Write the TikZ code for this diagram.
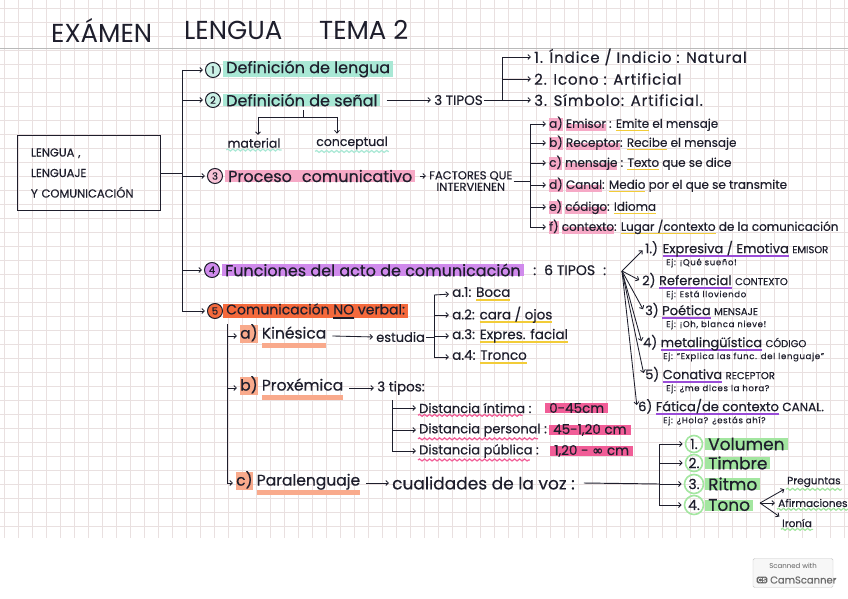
\documentclass[tikz,border=0pt]{standalone}
\usepackage{fontspec}
\setmainfont{Poppins}[FakeBold=0.4]
\newfontfamily\titlef{Poppins}
\newfontfamily\symf{DejaVu Sans}[FakeBold=0.4]
\newfontfamily\wfont{Poppins}[LetterSpace=6,FakeBold=0.4]
\newfontfamily\efont{Poppins}[LetterSpace=8,FakeBold=0.4]
\usetikzlibrary{arrows.meta,decorations.pathmorphing}
\definecolor{ink}{HTML}{1E1E2C}
\definecolor{gridc}{HTML}{E9E0E0}
\definecolor{mint}{HTML}{A9E8D5}
\definecolor{pinkhl}{HTML}{F6A9C6}
\definecolor{purplehl}{HTML}{D08AEC}
\definecolor{orangehl}{HTML}{F4693C}
\definecolor{salmon}{HTML}{F9AA8C}
\definecolor{yel}{HTML}{F2CC38}
\definecolor{hotpink}{HTML}{F15D97}
\definecolor{greenhl}{HTML}{A3E6A0}
\definecolor{purpleul}{HTML}{9A4DD8}
\newcommand\fz[1]{\fontsize{#1}{#1}\selectfont}
\newcommand\hlx[2]{\setbox0\hbox{#2}\rlap{\color{#1}\rule[-0.3em]{\wd0}{1.15em}}\box0\relax}
\newcommand\lhx[2]{\setbox0\hbox{#2}\rlap{\color{#1}\rule[-0.3em]{\wd0}{0.6em}}\box0\relax}
\newcommand\ulx[2]{\setbox0\hbox{#2}\rlap{\color{#1}\rule[-0.3em]{\wd0}{0.15em}}\box0\relax}
\newcommand\thul[2]{\setbox0\hbox{#2}\rlap{\color{#1}\rule[-0.6em]{\wd0}{0.3em}}\box0\relax}
\begin{document}
\begin{tikzpicture}[x=1pt,y=-1pt,
  lbl/.style={anchor=west,inner sep=1pt,text=ink},
  arr/.style={draw=ink,line width=0.85pt,-{Straight Barb[length=2.6pt,width=5pt]},shorten >=2pt},
  brk/.style={draw=ink,line width=0.95pt},
  num/.style={circle,draw=ink,line width=1pt,inner sep=0pt,minimum size=15pt,font=\fz{10},text=ink},
  hl/.style={fill=#1,inner xsep=3pt,inner ysep=-0.5pt},
  wavy/.style={draw=#1,line width=1.2pt,decorate,decoration={snake,amplitude=1pt,segment length=5pt}},
  fA/.style={font=\fz{16}},
  fB/.style={font=\fz{12}},
  fC/.style={font=\efont\fz{8.5}},
]
\useasboundingbox (0,0) rectangle (848,599);
\fill[white] (0,0) rectangle (848,599);
\foreach \i in {1,...,38} \draw[gridc,line width=0.4pt] (0,\i*14-6) -- (848,\i*14-6);
\foreach \j in {0,...,60} \draw[gridc,line width=0.4pt] (\j*14+4,0) -- (\j*14+4,538);
\draw[gray!55,line width=0.6pt] (0,48) -- (848,48);

% title
\node[lbl,font=\titlef\fz{26}] (tA) at (50,30) {EXÁMEN};
\node[lbl,font=\titlef\fz{26}] (tB) at (183,30) {LENGUA};
\node[lbl,font=\titlef\fz{26}] (tC) at (318,30) {TEMA 2};

% main box
\node[draw=ink,line width=1.1pt,minimum width=143pt,minimum height=75pt,text width=116pt,align=left,font=\fontsize{11.5}{20.5}\selectfont,text=ink] (box) at (89,173) {LENGUA ,\\LENGUAJE\\Y COMUNICACIÓN};

% main bracket
\coordinate (m1) at (182,70);
\coordinate (m2) at (182,100);
\coordinate (m3) at (182,176);
\coordinate (m4) at (182,270);
\coordinate (m5) at (182,311);
\draw[brk] (m1) -- (m5);
\draw[brk] (box.east) -- (box.east -| m1);

% 1
\node[num,fill=mint!60] (n1) at (213,70) {1};
\node[lbl,fA,hl=mint] (l1) at (223,69) {Definición de lengua};
\draw[arr] (m1) -- (n1.west);
% 2
\node[num,fill=mint!60] (n2) at (213,100) {2};
\node[lbl,fA,hl=mint] (l2) at (223,100) {Definición de señal};
\draw[arr] (m2) -- (n2.west);
\coordinate (s0) at (303,110);
\coordinate (sL) at (258,117);
\coordinate (sR) at (337,117);
\node[font=\fz{12.5},text=ink,inner sep=1pt] (mat) at (254,143) {material};
\node[font=\fz{12.5},text=ink,inner sep=1pt] (conc) at (352,143) {conceptual};
\draw[brk] (s0) -- (s0 |- sL);
\draw[brk] (sL) -- (sR);
\draw[arr] (sL) -- (sL |- mat.north);
\draw[arr] (sR) -- (sR |- conc.north);
\draw[wavy=mint] ([yshift=-1pt]mat.south west) -- ([yshift=-1pt]mat.south east);
\draw[wavy=mint] ([yshift=-1pt]conc.south west) -- ([yshift=-1pt]conc.south east);

\node[lbl,font=\fz{13.5}] (t3) at (433,100) {3 TIPOS};
\draw[arr] ([xshift=6pt]l2.east) -- (t3.west);
\coordinate (b1) at (502,57);
\coordinate (b2) at (502,79);
\coordinate (b3) at (502,100);
\draw[brk] (t3.east) -- (b3) -- (b1);
\node[lbl,font=\wfont\fz{15}] (i1) at (533,57) {1. Índice / Indicio : Natural};
\node[lbl,font=\wfont\fz{15}] (i2) at (533,79) {2. Icono : Artificial};
\node[lbl,font=\wfont\fz{15}] (i3) at (533,100) {3. Símbolo: Artificial.};
\draw[arr] (b1) -- (i1.west);
\draw[arr] (b2) -- (i2.west);
\draw[arr] (b3) -- (i3.west);

% 3
\node[num,fill=pinkhl!70] (n3) at (215,176) {3};
\node[lbl,fA,hl=pinkhl] (l3) at (225,176) {Proceso\hspace{10pt}comunicativo};
\draw[arr] (m3) -- (n3.west);
\node[lbl,font=\fz{11.5},align=center] (fq) at (428,181) {FACTORES QUE\\INTERVIENEN};
\draw[arr] ([xshift=5pt]l3.east) -- (fq.west |- l3.east);
\coordinate (f1) at (530,124);
\coordinate (f2) at (530,143);
\coordinate (f3) at (530,163);
\coordinate (f4) at (530,185);
\coordinate (f5) at (530,207);
\coordinate (f6) at (530,227);
\draw[brk] (f1) -- (f6);
\draw[brk] (fq.east) -- (fq.east -| f1);
\node[lbl,fB] (fa) at (548,124) {\hlx{pinkhl}{a)} \lhx{pinkhl}{Emisor} : \ulx{yel}{Emite} el mensaje};
\node[lbl,fB] (fb) at (548,143) {\hlx{pinkhl}{b)} \lhx{pinkhl}{Receptor}: \ulx{yel}{Recibe} el mensaje};
\node[lbl,fB] (fc) at (548,163) {\hlx{pinkhl}{c)} \lhx{pinkhl}{mensaje} : \ulx{yel}{Texto} que se dice};
\node[lbl,fB] (fd) at (548,185) {\hlx{pinkhl}{d)} \lhx{pinkhl}{Canal}: \ulx{yel}{Medio} por el que se transmite};
\node[lbl,fB] (fe) at (548,207) {\hlx{pinkhl}{e)} \lhx{pinkhl}{código}: \ulx{yel}{Idioma}};
\node[lbl,fB] (ff) at (548,227) {\hlx{pinkhl}{f)} \lhx{pinkhl}{contexto}: \ulx{yel}{Lugar /contexto} de la comunicación};
\foreach \k/\t in {1/a,2/b,3/c,4/d,5/e,6/f} \draw[arr] (f\k) -- (f\t.west);

% 4
\node[num,fill=purplehl] (n4) at (212,270) {4};
\node[lbl,fA,hl=purplehl] (l4) at (222,270) {Funciones del acto de comunicación};
\draw[arr] (m4) -- (n4.west);
\node[lbl,font=\fz{14}] (t6) at (532,270) {:\hspace{8pt}6 TIPOS\hspace{8pt}:};
\coordinate (fo) at (622,271);
\node[lbl,font=\fz{13}] (g1) at (644,249) {1.) \ulx{purpleul}{Expresiva / Emotiva} {\fz{10}EMISOR}};
\node[lbl,fC] (e1) at (665,263) {Ej: ¡Qué sueño!};
\node[lbl,font=\fz{13}] (g2) at (641,281) {2) \ulx{purpleul}{Referencial} {\fz{10}CONTEXTO}};
\node[lbl,fC] (e2) at (665,295) {Ej: Está lloviendo};
\node[lbl,font=\fz{13}] (g3) at (644,311) {3) \ulx{purpleul}{Poética} {\fz{10}MENSAJE}};
\node[lbl,fC] (e3) at (665,325) {Ej: ¡Oh, blanca nieve!};
\node[lbl,font=\fz{13}] (g4) at (642,343) {4) \ulx{purpleul}{metalingüística} {\fz{10}CÓDIGO}};
\node[lbl,fC] (e4) at (662,357) {Ej: “Explica las func. del lenguaje”};
\node[lbl,font=\fz{13}] (g5) at (644,375) {5) \ulx{purpleul}{Conativa} {\fz{10}RECEPTOR}};
\node[lbl,fC] (e5) at (665,389) {Ej: ¿me dices la hora?};
\node[lbl,font=\fz{13}] (g6) at (637,407) {6) \ulx{purpleul}{Fática/de contexto} {\fz{12}CANAL.}};
\node[lbl,fC] (e6) at (662,421) {Ej: ¿Hola? ¿estás ahí?};
\foreach \k in {1,...,6} \draw[arr] (fo) -- (g\k.west);

% 5
\node[num,fill=orangehl] (n5) at (215,311) {5};
\node[lbl,font=\fz{14},hl=orangehl] (l5) at (223,311) {Comunicación \ulx{ink}{NO} verbal:};
\draw[arr] (m5) -- (n5.west);
\coordinate (k0) at (227,324);
\coordinate (k1) at (227,336);
\coordinate (k2) at (227,388);
\coordinate (k3) at (227,483);
\draw[brk] (k0) -- (k3);

% a) Kinesica
\node[lbl,font=\fz{15.5}] (ka) at (239,336) {\hlx{salmon}{a)} \thul{salmon}{Kinésica}};
\draw[arr] (k1) -- (ka.west);
\node[lbl,font=\fz{13}] (es) at (375,337) {estudia};
\draw[arr] ([xshift=5pt]ka.east) -- (es.west);
\coordinate (c1) at (434,295);
\coordinate (c2) at (434,315);
\coordinate (c3) at (434,336);
\coordinate (c4) at (434,357);
\draw[brk] (c1) -- (c4);
\draw[brk] (es.east) -- (es.east -| c1);
\node[lbl,font=\fz{13.5}] (ca1) at (451,294) {a.1: \ulx{yel}{Boca}};
\node[lbl,font=\fz{13.5}] (ca2) at (451,315) {a.2: \ulx{yel}{cara / ojos}};
\node[lbl,font=\fz{13.5}] (ca3) at (451,336) {a.3: \ulx{yel}{Expres. facial}};
\node[lbl,font=\fz{13.5}] (ca4) at (451,357) {a.4: \ulx{yel}{Tronco}};
\foreach \k in {1,...,4} \draw[arr] (c\k) -- (ca\k.west);

% b) Proxemica
\node[lbl,font=\fz{15.5}] (kb) at (239,388) {\hlx{salmon}{b)} \thul{salmon}{Proxémica}};
\draw[arr] (k2) -- (kb.west);
\node[lbl,font=\fz{13.5}] (tp) at (376,388) {3 tipos:};
\draw[arr] ([xshift=5pt]kb.east) -- (tp.west);
\coordinate (d0) at (392,400);
\coordinate (d1) at (392,408);
\coordinate (d2) at (392,430);
\coordinate (d3) at (392,451);
\draw[brk] (d0) -- (d3);
\node[lbl,font=\fz{13}] (dn1) at (418,408) {Distancia íntima :};
\node[lbl,font=\fz{13}] (dn2) at (418,430) {Distancia personal :};
\node[lbl,font=\fz{13}] (dn3) at (418,451) {Distancia pública :};
\foreach \k in {1,2,3} {
  \draw[arr] (d\k) -- (dn\k.west);
  \draw[wavy=hotpink] ([yshift=-1pt]dn\k.south west) -- ([xshift=-10pt,yshift=-1pt]dn\k.south east);
}
\node[lbl,font=\fz{13.5},hl=hotpink,inner xsep=4pt] (dv1) at (545,408) {0-45cm};
\node[lbl,font=\fz{13.5},hl=hotpink,inner xsep=4pt] (dv2) at (549,430) {45-1,20 cm};
\node[lbl,font=\fz{13.5},hl=hotpink,inner xsep=4pt] (dv3) at (550,451) {1,20 - {\symf ∞} cm};

% c) Paralenguaje
\node[lbl,font=\fz{15.5}] (kc) at (235,483) {\hlx{salmon}{c)} \thul{salmon}{Paralenguaje}};
\draw[arr] (k3) -- (kc.west);
\node[lbl,font=\fz{17}] (cv) at (391,483) {cualidades de la voz :};
\draw[arr] ([xshift=5pt]kc.east) -- (cv.west);
\coordinate (v1) at (659,444);
\coordinate (v2) at (659,463);
\coordinate (v3) at (659,484);
\coordinate (v4) at (659,505);
\draw[brk] (v1) -- (v4);
\draw[brk] ([xshift=8pt]cv.east) -- (v3);
\node[circle,draw=greenhl,line width=1.6pt,inner sep=0.5pt,minimum size=17pt,font=\fz{14},text=ink] (wn1) at (694,444) {1.};
\node[circle,draw=greenhl,line width=1.6pt,inner sep=0.5pt,minimum size=17pt,font=\fz{14},text=ink] (wn2) at (694,463) {2.};
\node[circle,draw=greenhl,line width=1.6pt,inner sep=0.5pt,minimum size=19pt,font=\fz{14},text=ink] (wn3) at (694,484) {3.};
\node[circle,draw=greenhl,line width=1.6pt,inner sep=0.5pt,minimum size=19pt,font=\fz{14},text=ink] (wn4) at (694,505) {4.};
\node[lbl,font=\fz{17},hl=greenhl] (w1) at (705,444) {Volumen};
\node[lbl,font=\fz{17},hl=greenhl] (w2) at (705,463) {Timbre};
\node[lbl,font=\fz{17},hl=greenhl] (w3) at (705,484) {Ritmo};
\node[lbl,font=\fz{17},hl=greenhl] (w4) at (705,505) {Tono};
\foreach \k in {1,...,4} \draw[arr] (v\k) -- (wn\k.west);
\coordinate (to0) at (760,503);
\node[lbl,font=\fz{10.5}] (pq) at (786,482) {Preguntas};
\node[lbl,font=\fz{10.5}] (af) at (777,503) {Afirmaciones};
\node[lbl,font=\fz{10.5}] (ir) at (781,523) {Ironía};
\draw[arr] (to0) -- (pq.south west);
\draw[arr] (to0) -- (af.west);
\draw[arr] (to0) -- (ir.north west);
\foreach \n in {pq,af,ir} \draw[wavy=greenhl] ([yshift=-1pt]\n.south west) -- ([yshift=-1pt]\n.south east);

% scanner badge
\node[draw=gray!45,fill=gray!6,rounded corners=1.5pt,minimum width=80pt,minimum height=29pt] (badge) at (793,573) {};
\node[font=\titlef\fz{7},text=gray!75!black] (sw) at (793,566) {Scanned with};
\node[fill=gray!80!black,rounded corners=1.5pt,inner sep=1.2pt,font=\fz{6},text=white] (cs) at (762,580) {CS};
\node[lbl,font=\fz{10},text=gray!85!black] (csn) at (769,580) {CamScanner};
\end{tikzpicture}
\end{document}
